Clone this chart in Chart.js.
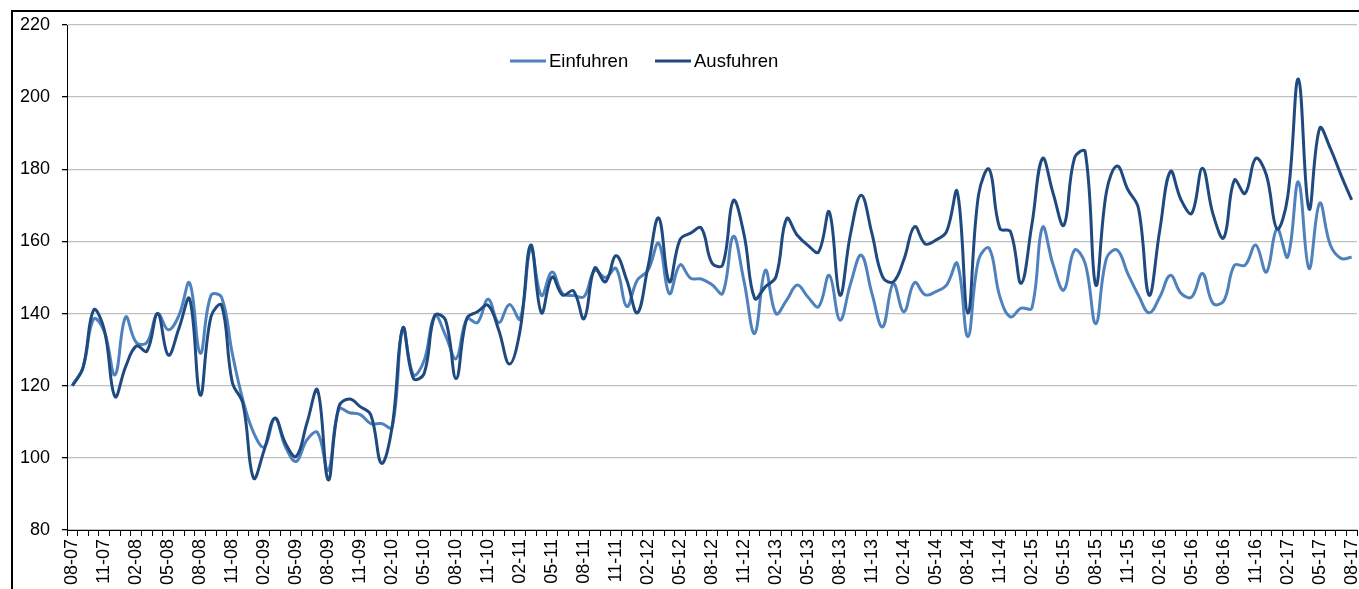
<!DOCTYPE html>
<html><head><meta charset="utf-8">
<script src="https://cdn.jsdelivr.net/npm/chart.js@4/dist/chart.umd.min.js"></script>
<style>html,body{margin:0;padding:0;background:#fff;overflow:hidden}#wrap{position:relative;width:1359px;height:589px}</style>
</head><body><div id="wrap"><canvas id="c" width="1359" height="589"></canvas></div>
<script>
const categories = [
 "08-07","09-07","10-07","11-07","12-07",
 "01-08","02-08","03-08","04-08","05-08","06-08","07-08","08-08","09-08","10-08","11-08","12-08",
 "01-09","02-09","03-09","04-09","05-09","06-09","07-09","08-09","09-09","10-09","11-09","12-09",
 "01-10","02-10","03-10","04-10","05-10","06-10","07-10","08-10","09-10","10-10","11-10","12-10",
 "01-11","02-11","03-11","04-11","05-11","06-11","07-11","08-11","09-11","10-11","11-11","12-11",
 "01-12","02-12","03-12","04-12","05-12","06-12","07-12","08-12","09-12","10-12","11-12","12-12",
 "01-13","02-13","03-13","04-13","05-13","06-13","07-13","08-13","09-13","10-13","11-13","12-13",
 "01-14","02-14","03-14","04-14","05-14","06-14","07-14","08-14","09-14","10-14","11-14","12-14",
 "01-15","02-15","03-15","04-15","05-15","06-15","07-15","08-15","09-15","10-15","11-15","12-15",
 "01-16","02-16","03-16","04-16","05-16","06-16","07-16","08-16","09-16","10-16","11-16","12-16",
 "01-17","02-17","03-17","04-17","05-17","06-17","07-17","08-17"
];
const einfuhren = [
 120,125,138.5,135,123,
 139,132,132,140,135.5,139.5,148.5,129,145,144.5,129,116,
 107,103,111,103,99,105,107,96.5,113.5,112.5,112,109.5,
 109.5,108.5,136,123,127,139.5,134,127.5,138.5,137.5,144,137.5,
 142.5,138.5,158,145,151.5,145.5,145,144.7,152,150,152.5,142,
 149.3,152,159.5,145.5,153.5,149.8,149.6,148,145.6,161.4,149,134.5,
 152,140,143.7,147.9,144.6,141.9,150.6,138.2,148.3,156.2,145.6,136.3,
 148.3,140.5,148.6,145.2,146.1,147.9,153.9,133.6,154.9,158.1,144.7,139.1,
 141.5,141.5,163.9,153.5,146.5,157.6,153.9,137.2,155.3,157.6,151.1,145.1,
 140.2,144.6,150.6,145.6,144.6,151.1,142.8,143.5,153.4,153.4,159,151.5,
 163.5,155.7,176.5,152.5,170.6,159,155.3,155.6
];
const ausfuhren = [
 120,125,141,135.5,117,
 125.3,131,129.6,140,128.5,135.9,144.1,117.4,139.1,142.3,121,115,
 94.4,102.2,111,104,100.4,109.6,118.8,93.9,114.2,116.3,114.2,111.9,
 98.5,108.7,136,122,123.4,139.5,138.2,122,138.6,140.5,142.3,135.4,
 126,135.4,159,140.2,150.1,145.1,146.3,138.6,152.6,148.8,156,149.3,
 140.2,153,166.5,148.8,160.5,162.3,163.7,154,153.5,171.3,162,144.2,
 147.4,150.2,166.3,161.7,158.9,157.1,168.2,145.1,162.2,172.8,162.2,150.2,
 148.8,155,164.1,159.3,160.4,162.7,173.8,140.1,172.9,180,163.6,162.7,
 148.4,164.6,183,173.3,164.5,183.1,184.9,147.9,173.8,180.9,174.4,169.2,
 145.1,163.1,179.4,171.5,167.8,180.3,167.5,161,177,173.3,183,178.4,
 163.5,172.4,205,169,191.4,185.8,178.4,171.5
];
const yTicks = [80,100,120,140,160,180,200,220];
const seriesNames = ["Einfuhren","Ausfuhren"];

const FONT = "'Liberation Sans', Arial, sans-serif";
const COL_IN = '#4f81bd';
const COL_OUT = '#1f4a80';

const framePlugin = {
  id: 'frame',
  afterDraw(chart) {
    const ctx = chart.ctx;
    ctx.save();
    ctx.strokeStyle = '#000';
    ctx.lineWidth = 2;
    ctx.beginPath();
    ctx.moveTo(12, 600); ctx.lineTo(12, 11); ctx.lineTo(1365, 11);
    ctx.stroke();
    ctx.restore();
  }
};
const legendPlugin = {
  id: 'customLegend',
  afterDraw(chart) {
    const ctx = chart.ctx;
    ctx.save();
    ctx.font = '18.5px ' + FONT;
    ctx.textBaseline = 'middle';
    ctx.fillStyle = '#000';
    const y = 61;
    const items = [[510, 0], [655, 1]];
    items.forEach(([x, i]) => {
      const ds = chart.data.datasets[i];
      ctx.strokeStyle = ds.borderColor;
      ctx.lineWidth = 3;
      ctx.beginPath(); ctx.moveTo(x, y); ctx.lineTo(x + 36, y); ctx.stroke();
      ctx.fillText(ds.label, x + 39, y + 1);
    });
    ctx.restore();
  }
};

new Chart(document.getElementById('c'), {
  type: 'line',
  data: {
    labels: categories,
    datasets: [
      {label: seriesNames[0], data: einfuhren, borderColor: COL_IN, backgroundColor: COL_IN, order: 2},
      {label: seriesNames[1], data: ausfuhren, borderColor: COL_OUT, backgroundColor: COL_OUT, order: 1}
    ]
  },
  options: {
    responsive: false,
    animation: false,
    devicePixelRatio: 1,
    layout: {padding: {left: 0, right: 2, top: 25, bottom: 0}},
    elements: {point: {radius: 0}, line: {tension: 0.4, borderWidth: 3, capBezierPoints: true}},
    plugins: {legend: {display: false}, tooltip: {enabled: false}},
    scales: {
      x: {
        offset: true,
        grid: {offset: true, drawOnChartArea: false, drawTicks: true, tickLength: 6, tickColor: '#000', tickWidth: 1},
        border: {color: '#000', width: 1},
        ticks: {
          autoSkip: false, minRotation: 90, maxRotation: 90, padding: 3, color: '#000',
          font: {family: FONT, size: 18},
          callback(v, i) { return i % 3 === 0 ? categories[i] : ''; }
        },
        afterFit(s) { s.height = 59; s.paddingLeft = 0; s.paddingRight = 0; }
      },
      y: {
        min: yTicks[0], max: yTicks[yTicks.length - 1],
        afterBuildTicks(s) { s.ticks = yTicks.map(v => ({value: v})); },
        grid: {color: '#c0c0c0', lineWidth: 1.3, tickColor: '#000', tickLength: 5},
        border: {color: '#000', width: 1},
        ticks: {padding: 12, color: '#000', font: {family: FONT, size: 18}},
        afterFit(s) { s.width = 67; s.paddingTop = 0; s.paddingBottom = 0; }
      }
    }
  },
  plugins: [framePlugin, legendPlugin]
});
</script>
</body></html>
